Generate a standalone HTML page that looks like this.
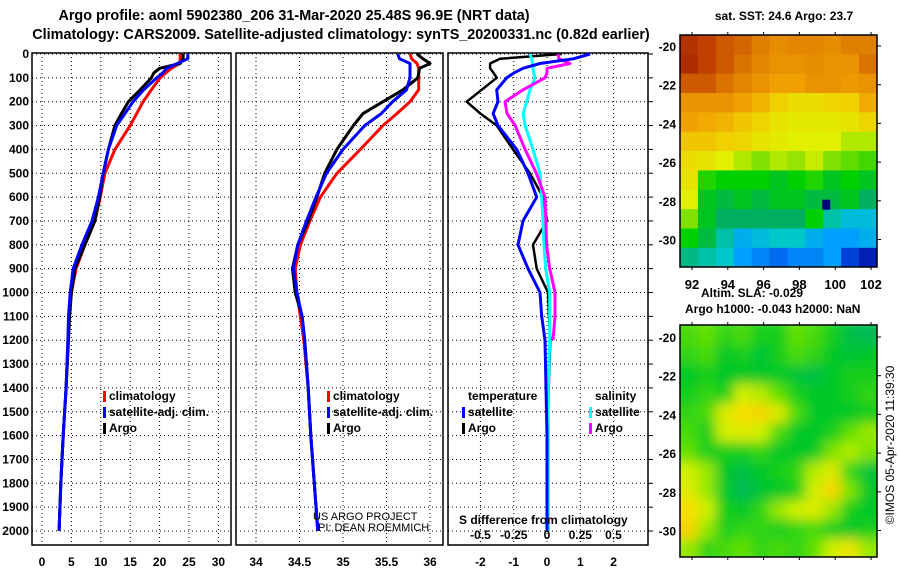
<!DOCTYPE html>
<html><head><meta charset="utf-8"><style>
body{margin:0;background:#fff;}
svg{display:block;font-family:"Liberation Sans",Arial,sans-serif;}
.b{font-weight:bold;font-size:12px;}
.t{font-weight:bold;font-size:14.4px;}
</style></head><body>
<svg id="c" width="900" height="580" viewBox="0 0 900 580">
<text class="t" x="294" y="20" text-anchor="middle">Argo profile: aoml 5902380_206 31-Mar-2020 25.48S 96.9E (NRT data)</text>
<text class="t" x="341" y="39" text-anchor="middle">Climatology: CARS2009. Satellite-adjusted climatology: synTS_20200331.nc (0.82d earlier)</text>
<g id="g"></g>
</svg>
<script>
const depths=[0,20,40,60,80,100,150,200,250,300,400,500,600,700,800,900,1000,1100,1200,1400,1600,1800,2000];
const tClim=[23.5,23.5,23.4,22,21,20.1,18.6,17.2,16.1,15,12.4,10.7,9.9,9.0,7.3,5.8,5.0,4.6,4.4,4.1,3.6,3.2,2.9];
const tSat=[24.8,24.8,23,21.2,20.5,19.5,17.3,15.5,14.1,12.7,11.3,10.4,9.6,8.5,6.8,5.3,4.8,4.5,4.4,4.1,3.6,3.2,2.9];
const tArgo=[24,24,23.5,20,19,18.6,16.7,14.7,13.5,12.4,11.3,10.4,9.8,9.0,7.3,5.6,5.0,4.7,4.5,4.1,3.6,3.2,2.9];
const sClim=[35.77,35.79,35.85,35.87,35.87,35.87,35.87,35.77,35.62,35.46,35.2,34.93,34.74,34.62,34.51,34.45,34.47,34.51,34.55,34.6,34.63,34.67,34.71];
const sSat=[35.63,35.65,35.77,35.77,35.77,35.77,35.73,35.57,35.44,35.25,35.0,34.81,34.69,34.58,34.48,34.43,34.47,34.53,34.56,34.6,34.63,34.67,34.71];
const sArgo=[35.85,35.92,36.0,35.88,35.87,35.86,35.69,35.46,35.23,35.12,34.93,34.79,34.7,34.6,34.48,34.42,34.45,34.53,34.56,34.6,34.63,34.67,34.71];
const dtSat=[1.29,0.79,-0.21,-0.72,-1.0,-1.21,-1.51,-1.47,-1.62,-1.47,-0.91,-0.57,-0.31,-0.72,-0.87,-0.57,-0.21,-0.16,-0.06,-0.03,0,0,0];
const dtArgo=[0.44,-1.41,-1.71,-1.71,-1.6,-1.51,-1.96,-2.41,-2.0,-1.51,-1.02,-0.51,-0.12,0,-0.42,-0.31,0.03,0.06,0.1,0.05,0.02,0,0];
const dsSat=[-0.128,-0.115,-0.11,-0.105,-0.1,-0.09,-0.128,-0.153,-0.18,-0.165,-0.105,-0.053,-0.04,-0.03,-0.023,-0.01,0.02,0.02,0.02,0.01,0.01,0.01,0.01];
const dsArgo=[0.083,0.09,0.173,0,0,-0.015,-0.18,-0.316,-0.3,-0.24,-0.165,-0.08,-0.015,-0.008,-0.003,0.02,0.06,0.06,0.045];
const depthTicks=[0,100,200,300,400,500,600,700,800,900,1000,1100,1200,1300,1400,1500,1600,1700,1800,1900,2000];
const p1Ticks=[0,5,10,15,20,25,30];
const p2Ticks=[34,34.5,35,35.5,36];
const p2Labels=["34","34.5","35","35.5","36"];
const p3Ticks=[-2,-1,0,1,2];
const sDiffTicks=[-0.5,-0.25,0,0.25,0.5];
const lonTicks=[92,94,96,98,100,102];
const latTicks=[-20,-22,-24,-26,-28,-30];
const sstGrid=[
[27.2,27,26.8,26.7,26.5,26.3,26.4,26.4,26.3,26.5,26.5],
[27.3,27,26.8,26.6,26.4,26.2,26.2,26.3,26.2,26.2,26.6],
[26.8,26.8,26.6,26.4,26.2,26,26,26.2,26.2,26.1,26.2],
[26.2,26.2,26.2,26,25.8,25.5,25.3,25.3,25.4,25.5,25.9],
[26,25.9,25.8,25.6,25.4,25.2,25.1,25.1,25.1,25.2,25.4],
[25.6,25.6,25.5,25.4,25.2,25.1,25,25,25,24.8,24.8],
[25.3,25.2,25,24.8,24.6,24.8,24.7,24.9,24.6,24.5,24.4],
[25.2,24.3,24.2,24.2,24.2,24.1,24.2,24.3,24.1,24.2,24.1],
[25,24.1,24,24.1,24.0,24.1,24.1,24.0,24.0,24.1,23.9],
[24.6,24.1,23.9,23.9,23.9,23.9,23.9,24.2,23.7,23.5,23.5],
[24.2,24.0,23.7,23.4,23.5,23.6,23.6,23.4,23.3,23.3,23.4],
[23.8,23.7,23.6,23.3,23.2,23.1,23.2,23.2,23.3,22.9,22.7]];
const slaGrid=[
[.45,.5,.4,.45,.35,.35,.5,.45,.35,.2,.15],
[.4,.45,.3,.35,.25,.35,.45,.4,.3,.25,.3],
[.3,.35,.3,.3,.3,.3,.25,.2,.3,.35,.35],
[.35,.4,.35,.7,.65,.5,.35,.3,.3,.35,.4],
[.4,.45,.75,.85,.9,.75,.45,.3,.3,.3,.35],
[.45,.35,.7,.75,.7,.45,.3,.3,.35,.5,.6],
[.5,.35,.35,.35,.4,.3,.3,.3,.55,.65,.55],
[.7,.6,.3,.2,.3,.35,.4,.65,.75,.4,.25],
[.75,.6,.3,.15,.25,.3,.35,.7,.9,.55,.3],
[.85,.7,.35,.3,.4,.6,.7,.75,.6,.35,.3],
[.9,.6,.35,.4,.4,.35,.4,.45,.35,.3,.35],
[.6,.4,.45,.5,.4,.45,.4,.5,.7,.8,.6]];
const argoLon=99.5, argoLat=-28.2;

const NS='http://www.w3.org/2000/svg';
const G=document.getElementById('g');
function mk(tag,attrs,parent){const e=document.createElementNS(NS,tag);for(const k in attrs)e.setAttribute(k,attrs[k]);(parent||G).appendChild(e);return e;}
const yD=d=>54+d*0.2385;
const x1=v=>42+v*5.88;
const x2=v=>256+(v-34)*87;
const x3=v=>547+v*33.3;
const xs=v=>547+v*133;
const pTop=53,pBot=545;
const panels=[{l:32,r:231,sc:x1,ticks:p1Ticks,labels:p1Ticks.map(String),n:'temperature'},
{l:236,r:443,sc:x2,ticks:p2Ticks,labels:p2Labels,n:'salinity'},
{l:448,r:648,sc:x3,ticks:p3Ticks,labels:p3Ticks.map(String),n:'difference'}];
panels.forEach(p=>{
  const grp=mk('g',{});
  
  
  depthTicks.forEach(d=>{const l=mk('line',{x1:p.l,x2:p.r,y1:yD(d),y2:yD(d),stroke:'#000','stroke-width':1,'stroke-dasharray':'1,3'},grp);
    });
  p.ticks.forEach((t,i)=>{const x=p.sc(t);
    const l=mk('line',{x1:x,x2:x,y1:pTop,y2:pBot,stroke:'#000','stroke-width':1,'stroke-dasharray':'1,3'},grp);
    
    const tx=mk('text',{x:x,y:566,'text-anchor':'middle',class:'b'},grp);tx.textContent=p.labels[i];
    });
  const r=mk('rect',{x:p.l,y:pTop,width:p.r-p.l,height:pBot-pTop,fill:'none',stroke:'#000','stroke-width':1.5},grp);
  
});
depthTicks.forEach(d=>{const t=mk('text',{x:29,y:yD(d)+4,'text-anchor':'end',class:'b'});t.textContent=d;
  
  const k=mk('line',{x1:648,x2:653,y1:yD(d),y2:yD(d),stroke:'#000'});
  });
function line(vals,sc,color,name,w){
  const pts=vals.map((v,i)=>sc(v).toFixed(1)+','+yD(depths[i]).toFixed(1)).join(' ');
  const pl=mk('polyline',{points:pts,fill:'none',stroke:color,'stroke-width':w||3,'stroke-linejoin':'round'});
  
  
}
line(tClim,x1,'#f00','temp-climatology-line');line(tArgo,x1,'#000','temp-argo-line');line(tSat,x1,'#00f','temp-satellite-line');
line(sClim,x2,'#f00','sal-climatology-line');line(sArgo,x2,'#000','sal-argo-line');line(sSat,x2,'#00f','sal-satellite-line');
line(dtArgo,x3,'#000','tdiff-argo-line',2.5);line(dsSat,xs,'#0ff','sdiff-satellite-line');line(dsArgo,xs,'#f0f','sdiff-argo-line');line(dtSat,x3,'#00f','tdiff-satellite-line');
function leg(x,y,color,label,name){
  if(color){const r=mk('rect',{x:x-6,y:y-9,width:3,height:11,fill:color});}
  const t=mk('text',{x:x,y:y,class:'b'});t.textContent=label;
}
[[109,'climatology','#f00'],[109,'satellite-adj. clim.','#00f'],[109,'Argo','#000']].forEach((a,i)=>leg(a[0],400+i*16,a[2],a[1],'legend-entry'));
[[333,'climatology','#f00'],[333,'satellite-adj. clim.','#00f'],[333,'Argo','#000']].forEach((a,i)=>leg(a[0],400+i*16,a[2],a[1],'legend-entry'));
leg(468,400,null,'temperature','legend-temperature-header');leg(595,400,null,'salinity','legend-salinity-header');
leg(468,416,'#00f','satellite','legend-entry');leg(468,432,'#000','Argo','legend-entry');
leg(595,416,'#0ff','satellite','legend-entry');leg(595,432,'#f0f','Argo','legend-entry');
let t=mk('text',{x:313,y:520,'font-size':11});t.textContent='US ARGO PROJECT';
t=mk('text',{x:318,y:531,'font-size':11});t.textContent='PI: DEAN ROEMMICH';
t=mk('text',{x:459,y:524,class:'b'});t.textContent='S difference from climatology';
sDiffTicks.forEach(v=>{const e=mk('text',{x:xs(v),y:539,'text-anchor':'middle',class:'b'});e.textContent=String(v);
  });

// maps
function lerpC(stops,v){
  if(v<=stops[0][0])return 'rgb('+stops[0][1].join(',')+')';
  for(let i=1;i<stops.length;i++){if(v<=stops[i][0]){const a=stops[i-1],b=stops[i],f=(v-a[0])/(b[0]-a[0]);
    return 'rgb('+[0,1,2].map(k=>Math.round(a[1][k]+(b[1][k]-a[1][k])*f)).join(',')+')';}}
  const s=stops[stops.length-1][1];return 'rgb('+s.join(',')+')';
}
const sstStops=[[22.5,[0,0,150]],[23,[0,80,230]],[23.3,[0,160,255]],[23.6,[0,200,200]],[23.9,[0,176,96]],[24.2,[0,208,0]],[24.6,[128,224,0]],[25,[224,240,0]],[25.5,[240,208,0]],[26,[240,160,0]],[26.5,[224,128,0]],[27,[192,64,0]],[27.5,[160,32,0]]];
const slaStops=[[0,[0,176,128]],[0.3,[0,200,40]],[0.5,[96,224,0]],[0.7,[208,240,0]],[0.85,[248,224,0]],[1,[240,192,0]]];
const mL=680,mR=877;
const lonX=lon=>692+(lon-92)*17.9;
function drawMap(grid,stops,yTop,lat20y,name,blur){
  const latY=lat=>lat20y+(-20-lat)*19.35;
  const grp=mk('g',{});
  const cp=mk('clipPath',{id:'cp'+name},grp);mk('rect',{x:mL,y:yTop,width:mR-mL,height:232},cp);
  const inner=mk('g',{'clip-path':'url(#cp'+name+')'},grp);
  const cells=mk('g',blur?{filter:'url(#bl)'}:{},inner);
  grid.forEach((row,r)=>row.forEach((v,c)=>{
    const lon0=91.33+c, lat0=-19.43-r;
    const x=lonX(lon0),y=latY(lat0);
    const re=mk('rect',{x:x-(blur&&c==0?12:0),y:y-(blur&&r==0?8:0),width:18.4+(blur&&(c==0||c==10)?12:0),height:19.85+(blur&&(r==0||r==11)?8:0),fill:lerpC(stops,v)},cells);
    
  }));
  const fr=mk('rect',{x:mL,y:yTop,width:mR-mL,height:232,fill:'none',stroke:'#000','stroke-width':1.5},grp);
  
  latTicks.forEach(l=>{const y=latY(l);mk('line',{x1:mR,x2:mR+4,y1:y,y2:y,stroke:'#000'},grp);
    const e=mk('text',{x:676,y:y+5,'text-anchor':'end',class:'b'},grp);e.textContent=l;});
  lonTicks.forEach(l=>{const x=lonX(l);mk('line',{x1:x,x2:x,y1:yTop-3,y2:yTop,stroke:'#000'},grp);mk('line',{x1:x,x2:x,y1:yTop+232,y2:yTop+235,stroke:'#000'},grp);});
  return latY;
}
const defs=mk('defs',{});const flt=mk('filter',{id:'bl',x:'-10%',y:'-10%',width:'120%',height:'120%'},defs);mk('feGaussianBlur',{stdDeviation:6},flt);
const latY1=drawMap(sstGrid,sstStops,35,46,'sst-map',false);
const mark=mk('rect',{x:lonX(argoLon)-4,y:latY1(argoLat)-5,width:8,height:10,fill:'#000080'});

lonTicks.forEach(l=>{const e=mk('text',{x:lonX(l),y:289,'text-anchor':'middle',class:'b'});e.textContent=l;e.style.fontSize='13px';
  });
drawMap(slaGrid,slaStops,325,337,'sla-map',true);
t=mk('text',{x:784,y:20,'text-anchor':'middle',class:'b'});t.textContent='sat. SST: 24.6 Argo: 23.7';
t=mk('text',{x:701,y:297,class:'b'});t.textContent='Altim. SLA: -0.029';
t=mk('text',{x:685,y:313,class:'b'});t.textContent='Argo h1000: -0.043 h2000: NaN';
t=mk('text',{x:0,y:0,'font-size':12,transform:'translate(894,445) rotate(-90)','text-anchor':'middle'});t.textContent='©IMOS 05-Apr-2020 11:39:30';
</script>
</body></html>
